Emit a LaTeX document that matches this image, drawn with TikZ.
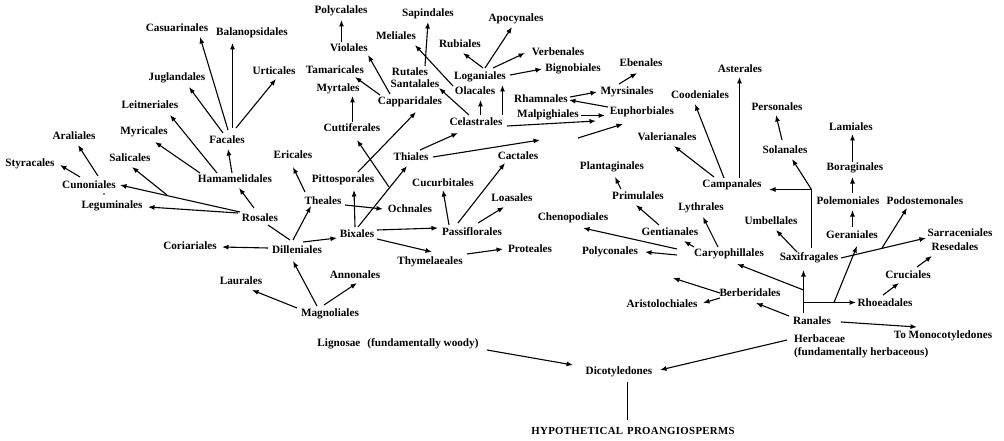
\documentclass[tikz,border=0pt]{standalone}
\usepackage{fontspec}
\setmainfont{Liberation Serif}
\usetikzlibrary{arrows.meta}
\begin{document}
\begin{tikzpicture}[x=1pt,y=-1pt,
  lbl/.style={inner sep=0pt, font=\fontsize{11.2}{12.5}\selectfont\bfseries},
  arr/.style={-{Latex[length=6.5pt,width=5pt]}, line width=1.1pt},
  ln/.style={line width=1.1pt}]
\useasboundingbox[fill=white] (0,0) rectangle (1004,441);
% ---------- nodes ----------
\node[lbl] (cas) at (177,28) {Casuarinales};
\node[lbl] (bal) at (252,33) {Balanopsidales};
\node[lbl] (jug) at (177,78) {Juglandales};
\node[lbl] (urt) at (274,71) {Urticales};
\node[lbl] (lei) at (150,105) {Leitneriales};
\node[lbl] (ara) at (74,136) {Araliales};
\node[lbl] (myc) at (144,132) {Myricales};
\node[lbl] (fac) at (227,140) {Facales};
\node[lbl] (sty) at (30,164) {Styracales};
\node[lbl] (sal) at (130,158) {Salicales};
\node[lbl] (ham) at (235,179) {Hamamelidales};
\node[lbl] (cun) at (89,185) {Cunoniales};
\node[lbl] (leg) at (112,206) {Leguminales};
\node[lbl] (ros) at (260,218) {Rosales};
\node[lbl] (cor) at (190,246) {Coriariales};
\node[lbl] (lau) at (241,281) {Laurales};
\node[lbl] (eri) at (293,155) {Ericales};
\node[lbl] (pit) at (343,180) {Pittosporales};
\node[lbl] (thi) at (411,157) {Thiales};
\node[lbl] (cuc) at (443,183) {Cucurbitales};
\node[lbl] (the) at (323,201) {Theales};
\node[lbl] (och) at (410,209) {Ochnales};
\node[lbl] (bix) at (357,234) {Bixales};
\node[lbl] (pas) at (472,232) {Passiflorales};
\node[lbl] (dil) at (297,250) {Dilleniales};
\node[lbl] (thy) at (430,262) {Thymelaeales};
\node[lbl] (ann) at (355,275) {Annonales};
\node[lbl] (loa) at (512,198) {Loasales};
\node[lbl] (cac) at (518,156) {Cactales};
\node[lbl] (pro) at (530,249) {Proteales};
\node[lbl] (mag) at (330,314) {Magnoliales};
\node[lbl] (lig) at (398,344) {Lignosae\hspace{7pt}(fundamentally woody)};
\node[lbl] (pol) at (341,11) {Polycalales};
\node[lbl] (sap) at (428,14) {Sapindales};
\node[lbl] (mel) at (396,36) {Meliales};
\node[lbl] (rub) at (460,44) {Rubiales};
\node[lbl] (vio) at (349,48) {Violales};
\node[lbl] (tam) at (335,70) {Tamaricales};
\node[lbl] (rut) at (410,72) {Rutales};
\node[lbl] (san) at (415,84) {Santalales};
\node[lbl] (log) at (480,77) {Loganiales};
\node[lbl] (ola) at (475,91) {Olacales};
\node[lbl] (myr) at (338,89) {Myrtales};
\node[lbl] (cap) at (410,102) {Capparidales};
\node[lbl] (cut) at (352,128) {Cuttiferales};
\node[lbl] (cel) at (476,122) {Celastrales};
\node[lbl] (apo) at (516,19) {Apocynales};
\node[lbl] (ver) at (558,52) {Verbenales};
\node[lbl] (big) at (573,69) {Bignobiales};
\node[lbl] (ebe) at (641,63) {Ebenales};
\node[lbl] (ast) at (740,69) {Asterales};
\node[lbl] (mys) at (627,92) {Myrsinales};
\node[lbl] (coo) at (700,95) {Coodeniales};
\node[lbl] (rha) at (541,99) {Rhamnales};
\node[lbl] (mal) at (548,115) {Malpighiales};
\node[lbl] (eup) at (642,112) {Euphorbiales};
\node[lbl] (val) at (667,137) {Valerianales};
\node[lbl] (per) at (777,107) {Personales};
\node[lbl] (lam) at (851,127) {Lamiales};
\node[lbl] (sol) at (785,150) {Solanales};
\node[lbl] (bor) at (855,168) {Boraginales};
\node[lbl] (pla) at (612,167) {Plantaginales};
\node[lbl] (cam) at (732,185) {Campanales};
\node[lbl] (pri) at (638,196) {Primulales};
\node[lbl] (lyt) at (701,208) {Lythrales};
\node[lbl] (che) at (573,218) {Chenopodiales};
\node[lbl] (gen) at (670,232) {Gentianales};
\node[lbl] (plc) at (610,252) {Polyconales};
\node[lbl] (car) at (729,254) {Caryophillales};
\node[lbl] (pom) at (848,201) {Polemoniales};
\node[lbl] (pod) at (925,201) {Podostemonales};
\node[lbl] (umb) at (771,221) {Umbellales};
\node[lbl] (ger) at (852,235) {Geraniales};
\node[lbl] (sar) at (960,233) {Sarraceniales};
\node[lbl] (res) at (955,247) {Resedales};
\node[lbl] (sax) at (809,258) {Saxifragales};
\node[lbl] (cru) at (908,275) {Cruciales};
\node[lbl] (rho) at (885,303) {Rhoeadales};
\node[lbl] (ber) at (750,293) {Berberidales};
\node[lbl] (ari) at (662,304) {Aristolochiales};
\node[lbl] (ran) at (812,321) {Ranales};
\node[lbl, anchor=north west, align=left] (her) at (794,335) {Herbaceae\\(fundamentally herbaceous)};
\node[lbl] (mon) at (943,336) {To Monocotyledones};
\node[lbl] (dic) at (619,372) {Dicotyledones};
\node[lbl, font=\fontsize{10.8}{12}\selectfont\bfseries\addfontfeature{LetterSpace=3}] (hyp) at (633,431) {HYPOTHETICAL\hspace{4pt}PROANGIOSPERMS};
% ---------- junctions ----------
\coordinate (jSal) at (167,195);
\coordinate (jCut) at (389,187);
\coordinate (jThi) at (540,140);
\coordinate (jEup) at (578,138);
\coordinate (jBer) at (673,278);
\coordinate (jSax) at (811.5,189.5);
\coordinate (jPod) at (882,248);
\coordinate (jCar) at (803.5,290);
\coordinate (jRho) at (803.5,302.5);
\coordinate (jGer) at (834,302.5);
\fill (104,194) circle (0.9);
% ---------- connectors ----------
\draw[arr] ([shift={(1,-10)}]fac.center) -- ([shift={(23,9)}]cas.center);
\draw[arr] ([shift={(5.5,-12)}]fac.center) -- ([shift={(-19.5,10)}]bal.center);
\draw[arr] ([shift={(9,-12)}]fac.center) -- ([shift={(2,8)}]urt.center);
\draw[arr] ([shift={(-4,-7)}]fac.center) -- ([shift={(12,9)}]jug.center);
\draw[arr] ([shift={(-18,-6)}]ham.center) -- ([shift={(20,10)}]lei.center);
\draw[arr] ([shift={(-35,-6)}]ham.center) -- ([shift={(11,10)}]myc.center);
\draw[arr] ([shift={(-3,-6)}]ham.center) -- ([shift={(1,9)}]fac.center);
\draw[arr] ([shift={(9,-9)}]cun.center) -- ([shift={(4,9)}]ara.center);
\draw[arr] ([shift={(-9,-8)}]cun.center) -- ([shift={(30,1)}]sty.center);
\draw[arr] ([shift={(-20,-6)}]ros.center) -- ([shift={(31,0)}]cun.center);
\draw[arr] ([shift={(-22,-5)}]ros.center) -- ([shift={(36,1)}]leg.center);
\draw[arr] (jSal) -- ([shift={(2,9)}]sal.center);
\draw[arr] ([shift={(-6,-10)}]ros.center) -- ([shift={(4,9)}]ham.center);
\draw[arr] ([shift={(-29,-2)}]dil.center) -- ([shift={(32,1)}]cor.center);
\draw[arr] ([shift={(-18,-9)}]the.center) -- ([shift={(0,12)}]eri.center);
\draw[arr] ([shift={(-4,-10)}]dil.center) -- ([shift={(-12,5)}]the.center);
\draw[ln] ([shift={(-7,-10)}]dil.center) -- ([shift={(8,7)}]ros.center);
\draw[arr] ([shift={(6,-8)}]dil.center) -- ([shift={(-20,4)}]bix.center);
\draw[arr] ([shift={(-13,-8)}]mag.center) -- ([shift={(-4,11)}]dil.center);
\draw[arr] ([shift={(-33,-6)}]mag.center) -- ([shift={(11,9)}]lau.center);
\draw[arr] ([shift={(-6,-9)}]mag.center) -- ([shift={(2,8)}]ann.center);
\draw[arr] ([shift={(-2,-7)}]bix.center) -- ([shift={(11,10)}]pit.center);
\draw[arr] ([shift={(22,4)}]the.center) -- ([shift={(-27,0)}]och.center);
\draw[arr] ([shift={(1,-7)}]bix.center) -- ([shift={(-4,9)}]thi.center);
\draw[arr] (jCut) -- ([shift={(5,12)}]cut.center);
\draw[arr] ([shift={(15,-8)}]pit.center) -- ([shift={(6,10)}]cap.center);
\draw[arr] ([shift={(20,-4)}]bix.center) -- ([shift={(-34,-4)}]pas.center);
\draw[arr] ([shift={(20,5)}]bix.center) -- ([shift={(2,-10)}]thy.center);
\draw[arr] ([shift={(-23,-7)}]pas.center) -- ([shift={(0,7)}]cuc.center);
\draw[arr] ([shift={(-14,-9)}]pas.center) -- ([shift={(-13,7)}]cac.center);
\draw[arr] ([shift={(6,-9)}]pas.center) -- ([shift={(-8,9)}]loa.center);
\draw[arr] ([shift={(37,-8)}]thy.center) -- ([shift={(-27,0)}]pro.center);
\draw[arr] ([shift={(22,0)}]thi.center) -- (jThi);
\draw[arr] (jEup) -- ([shift={(-19,12)}]eup.center);
\draw[arr] ([shift={(9,-7)}]thi.center) -- ([shift={(-18,11)}]cel.center);
\draw[arr] ([shift={(-7.5,-6)}]vio.center) -- ([shift={(0.5,9)}]pol.center);
\draw[arr] ([shift={(-20,-8)}]cap.center) -- ([shift={(19,7)}]vio.center);
\draw[arr] ([shift={(-30,-7)}]cap.center) -- ([shift={(20,7)}]tam.center);
\draw[arr] ([shift={(0.5,-6)}]cut.center) -- ([shift={(14.5,7)}]myr.center);
\draw[arr] ([shift={(15,-6)}]rut.center) -- ([shift={(0,8)}]sap.center);
\draw[arr] ([shift={(-22,-5)}]ola.center) -- ([shift={(19,9)}]mel.center);
\draw[arr] ([shift={(-7,-7)}]cel.center) -- ([shift={(24,4)}]san.center);
\draw[arr] ([shift={(4.5,-7)}]cel.center) -- ([shift={(5.5,9)}]ola.center);
\draw[arr] ([shift={(26.5,-7)}]cel.center) -- ([shift={(22.5,8)}]log.center);
\draw[arr] ([shift={(3,-9)}]log.center) -- ([shift={(3,9)}]rub.center);
\draw[arr] ([shift={(5,-9)}]log.center) -- ([shift={(-4,8)}]apo.center);
\draw[arr] ([shift={(13,-9)}]log.center) -- ([shift={(-33,1)}]ver.center);
\draw[arr] ([shift={(30,-2)}]log.center) -- ([shift={(-31,0)}]big.center);
\draw[arr] ([shift={(31,4)}]cel.center) -- ([shift={(-46,9)}]eup.center);
\draw[arr] ([shift={(33,0.5)}]mal.center) -- ([shift={(-37,3.5)}]eup.center);
\draw[arr] ([shift={(-34,-5)}]eup.center) -- ([shift={(28,1)}]rha.center);
\draw[arr] ([shift={(29,-2)}]rha.center) -- ([shift={(-30,0)}]mys.center);
\draw[arr] ([shift={(-8,-8)}]mys.center) -- ([shift={(-4,10)}]ebe.center);
\draw[arr] ([shift={(-8,-7)}]cam.center) -- ([shift={(-5,9)}]coo.center);
\draw[arr] ([shift={(7.5,-7)}]cam.center) -- ([shift={(-0.5,8)}]ast.center);
\draw[arr] ([shift={(-18,-8)}]cam.center) -- ([shift={(7,9)}]val.center);
\draw[arr] ([shift={(-3,-10)}]sol.center) -- ([shift={(-1,8)}]per.center);
\draw[arr] ([shift={(-2.5,-6)}]bor.center) -- ([shift={(1.5,7)}]lam.center);
\draw[arr] ([shift={(4.5,-8)}]pom.center) -- ([shift={(-2.5,9)}]bor.center);
\draw[arr] ([shift={(0.5,-8)}]ger.center) -- ([shift={(4.5,9)}]pom.center);
\draw[ln] ([shift={(2.5,-10)}]sax.center) -- (jSax);
\draw[arr] (jSax) -- ([shift={(37,4.5)}]cam.center);
\draw[arr] (jSax) -- ([shift={(7,9)}]sol.center);
\draw[arr] ([shift={(-12,-6)}]sax.center) -- ([shift={(5,9)}]umb.center);
\draw[arr] ([shift={(-8.5,-8)}]ran.center) -- ([shift={(-5.5,12)}]sax.center);
\draw[arr] (jCar) -- ([shift={(8,10)}]car.center);
\draw[arr] (jRho) -- ([shift={(-29,-0.5)}]rho.center);
\draw[arr] (jGer) -- ([shift={(5,11)}]ger.center);
\draw[arr] ([shift={(32,0)}]sax.center) -- ([shift={(-34,5)}]sar.center);
\draw[arr] (jPod) -- ([shift={(-18,7)}]pod.center);
\draw[arr] ([shift={(9,-8)}]cru.center) -- ([shift={(-23,9)}]res.center);
\draw[arr] ([shift={(-2,-8)}]rho.center) -- ([shift={(-9,8)}]cru.center);
\draw[arr] ([shift={(-23,-5)}]ran.center) -- ([shift={(6,10)}]ber.center);
\draw[arr] ([shift={(29,1)}]ran.center) -- ([shift={(-26,-9)}]mon.center);
\draw[arr] ([shift={(-30,5)}]ber.center) -- ([shift={(41,-1)}]ari.center);
\draw[arr] ([shift={(-30,0)}]ber.center) -- (jBer);
\draw[arr] ([shift={(-17,-7)}]pri.center) -- ([shift={(3,10)}]pla.center);
\draw[arr] ([shift={(-11,-7)}]gen.center) -- ([shift={(-2,9)}]pri.center);
\draw[arr] ([shift={(-35,-7)}]car.center) -- ([shift={(14,9)}]gen.center);
\draw[arr] ([shift={(-11,-7)}]car.center) -- ([shift={(2,9)}]lyt.center);
\draw[arr] ([shift={(-52,-5)}]car.center) -- ([shift={(10,10)}]che.center);
\draw[arr] ([shift={(-52,1)}]car.center) -- ([shift={(35,0)}]plc.center);
\draw[arr] ([shift={(-7,5)}]her.north west) -- ([shift={(41,-2)}]dic.center);
\draw[arr] ([shift={(89,6)}]lig.center) -- ([shift={(-46,-7)}]dic.center);
\draw[ln] ([shift={(8.5,10)}]dic.center) -- ([shift={(-5.5,-11)}]hyp.center);
\end{tikzpicture}
\end{document}
